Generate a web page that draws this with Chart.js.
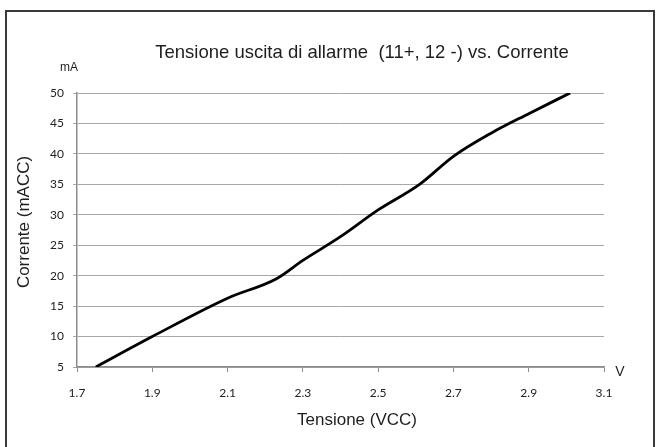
<!DOCTYPE html>
<html>
<head>
<meta charset="utf-8">
<script src="https://cdn.jsdelivr.net/npm/chart.js@4/dist/chart.umd.min.js"></script>
<style>
  html, body { margin: 0; padding: 0; background: #ffffff; }
  #wrap { width: 656px; height: 447px; }
</style>
</head>
<body>
<div id="wrap"><canvas id="c" width="656" height="447"></canvas></div>
<script>
// ---- data ----
const voltage = [1.75, 1.9, 2.1, 2.23, 2.3, 2.4, 2.5, 2.61, 2.7, 2.8, 2.9, 3.01];
const current = [5, 10, 16.3, 19.5, 22.5, 26.4, 30.8, 35, 39.6, 43.4, 46.6, 50];
const xTicks = [1.7, 1.9, 2.1, 2.3, 2.5, 2.7, 2.9, 3.1];
const yTicks = [5, 10, 15, 20, 25, 30, 35, 40, 45, 50];
const chartTitle = 'Tensione uscita di allarme  (11+, 12 -) vs. Corrente';
const xTitle = 'Tensione (VCC)';
const yTitle = 'Corrente (mACC)';
const xUnit = 'V';
const yUnit = 'mA';

const points = voltage.map((v, i) => ({ x: v, y: current[i] }));

const textPlugin = {
  id: 'textPlugin',
  beforeDraw(chart) {
    const ctx = chart.ctx;
    ctx.save();
    ctx.fillStyle = '#ffffff';
    ctx.fillRect(0, 0, chart.width, chart.height);
    ctx.strokeStyle = '#3a3a3a';
    ctx.lineWidth = 2;
    ctx.strokeRect(6, 11, 648, 460);
    ctx.restore();
  },
  afterDraw(chart) {
    const ctx = chart.ctx;
    const a = chart.chartArea;
    ctx.save();
    ctx.fillStyle = '#1e1e1e';
    ctx.textAlign = 'center';
    ctx.textBaseline = 'middle';
    ctx.font = '18.5px "Liberation Sans", Arial, sans-serif';
    ctx.fillText(chartTitle, 362, 53);
    ctx.font = '17px "Liberation Sans", Arial, sans-serif';
    ctx.fillText(xTitle, 357, 420);
    ctx.save();
    ctx.translate(24, 222);
    ctx.rotate(-Math.PI / 2);
    ctx.fillText(yTitle, 0, 0);
    ctx.restore();
    ctx.font = '14px "Liberation Sans", Arial, sans-serif';
    ctx.fillText(xUnit, a.right + 16, a.bottom + 5);
    ctx.font = '12px "Liberation Sans", Arial, sans-serif';
    ctx.fillText(yUnit, 69, 68);
    ctx.restore();
  }
};

new Chart(document.getElementById('c'), {
  type: 'scatter',
  data: {
    datasets: [{
      data: points,
      showLine: true,
      borderColor: '#000000',
      borderWidth: 2.8,
      pointRadius: 0,
      tension: 0.4,
      cubicInterpolationMode: 'monotone',
      fill: false
    }]
  },
  options: {
    responsive: false,
    animation: false,
    layout: { padding: { left: 5, top: 93, right: 52, bottom: 50 } },
    plugins: { legend: { display: false }, tooltip: { enabled: false }, title: { display: false } },
    scales: {
      x: {
        type: 'linear',
        min: 1.7, max: 3.1,
        afterBuildTicks: s => { s.ticks = xTicks.map(v => ({ value: v })); },
        afterFit: s => { s.height = 30; },
        grid: { drawOnChartArea: false, drawTicks: true, tickLength: 5, color: '#8c8c8c' },
        border: { display: true, color: '#8c8c8c', width: 1.5 },
        ticks: {
          padding: 14,
          color: '#222222',
          font: { family: 'Lato, "Open Sans", sans-serif', size: 12 },
          callback: v => Number(v).toFixed(1),
          maxRotation: 0,
          autoSkip: false
        }
      },
      y: {
        type: 'linear',
        min: 5, max: 50,
        afterBuildTicks: s => { s.ticks = yTicks.map(v => ({ value: v })); },
        afterFit: s => { s.width = 72; },
        grid: { drawOnChartArea: true, drawTicks: true, tickLength: 4, color: '#a8a8a8', lineWidth: 1 },
        border: { display: true, color: '#8c8c8c', width: 1.5 },
        ticks: {
          padding: 9,
          color: '#222222',
          font: { family: 'Lato, "Open Sans", sans-serif', size: 12 },
          autoSkip: false
        }
      }
    }
  },
  plugins: [textPlugin]
});
</script>
</body>
</html>
